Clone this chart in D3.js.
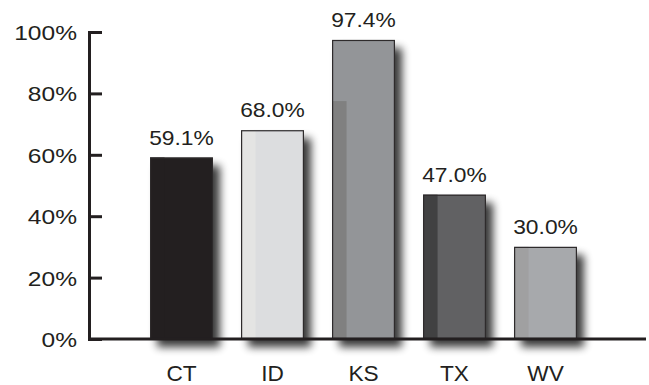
<!DOCTYPE html>
<html>
<head>
<meta charset="utf-8">
<script src="https://cdn.jsdelivr.net/npm/d3@7"></script>
<style>
  html, body { margin: 0; padding: 0; background: #fff; }
  #chart { width: 649px; height: 385px; }
  text { font-family: "Liberation Sans", Arial, Helvetica, sans-serif; fill: #231f20; }
</style>
</head>
<body>
<div id="chart"></div>
<script>
// chart data
const states = ["CT", "ID", "KS", "TX", "WV"];
const shares = [59.1, 68.0, 97.4, 47.0, 30.0];
// height of the lighter/darker left stripe inside each bar
const stripeShares = [59.1, 68.0, 77.5, 47.0, 30.0];
const yTicks = [0, 20, 40, 60, 80, 100];

const fills = ["#231f20", "#dcdddf", "#939598", "#616163", "#a7a9ac"];
const stripeFills = ["#231f20", "#e4e4e3", "#808080", "#414142", "#a0a0a1"];

const W = 649, H = 385;

const svg = d3.select("#chart").append("svg")
  .attr("width", W)
  .attr("height", H);

// soft drop shadow behind the bars
const defs = svg.append("defs");
const f = defs.append("filter")
  .attr("id", "shadow")
  .attr("x", "-30%").attr("y", "-30%")
  .attr("width", "160%").attr("height", "160%");
f.append("feGaussianBlur").attr("in", "SourceAlpha").attr("stdDeviation", 4.5).attr("result", "blur");
f.append("feOffset").attr("in", "blur").attr("dx", 7).attr("dy", 8).attr("result", "off");
f.append("feComponentTransfer").attr("in", "off")
  .append("feFuncA").attr("type", "linear").attr("slope", 0.78);

const y = d3.scaleLinear().domain([0, 100]).range([339, 32]);
const x = d3.scaleBand()
  .domain(states)
  .range([104.6, 622.4])
  .paddingInner(0.31)
  .paddingOuter(0.5);

const data = states.map((s, i) => ({
  state: s, v: shares[i], stripe: stripeShares[i], fill: fills[i], sfill: stripeFills[i]
}));

// shadows
svg.append("g").selectAll("rect")
  .data(data)
  .enter().append("rect")
  .attr("x", d => x(d.state))
  .attr("y", d => y(d.v))
  .attr("width", x.bandwidth())
  .attr("height", d => y(0) - y(d.v))
  .attr("fill", "#000")
  .attr("filter", "url(#shadow)");

// bars
const bars = svg.append("g");
bars.selectAll("rect.bar")
  .data(data)
  .enter().append("rect")
  .attr("class", "bar")
  .attr("x", d => x(d.state))
  .attr("y", d => y(d.v))
  .attr("width", x.bandwidth())
  .attr("height", d => y(0) - y(d.v))
  .attr("fill", d => d.fill);

bars.selectAll("rect.stripe")
  .data(data)
  .enter().append("rect")
  .attr("class", "stripe")
  .attr("x", d => x(d.state))
  .attr("y", d => y(d.stripe))
  .attr("width", x.bandwidth() * 0.23)
  .attr("height", d => y(0) - y(d.stripe))
  .attr("fill", d => d.sfill);

bars.selectAll("rect.edge")
  .data(data)
  .enter().append("rect")
  .attr("class", "edge")
  .attr("x", d => x(d.state) + 0.5)
  .attr("y", d => y(d.v) + 0.5)
  .attr("width", x.bandwidth() - 1)
  .attr("height", d => y(0) - y(d.v) - 1)
  .attr("fill", "none")
  .attr("stroke", "#2e2b2c")
  .attr("stroke-width", 1.2);

// value labels
svg.append("g").selectAll("text")
  .data(data)
  .enter().append("text")
  .attr("transform", d => `translate(${x(d.state) + x.bandwidth() / 2},${y(d.v) - 13}) scale(1.14,1)`)
  .attr("text-anchor", "middle")
  .attr("font-size", "20px")
  .text(d => d.v.toFixed(1) + "%");

// baseline
svg.append("line")
  .attr("x1", 88).attr("x2", 646)
  .attr("y1", y(0)).attr("y2", y(0))
  .attr("stroke", "#231f20")
  .attr("stroke-width", 3);

// y axis, ticks pointing right
const yAxis = svg.append("g")
  .attr("transform", "translate(89,0)")
  .call(d3.axisLeft(y)
    .tickValues(yTicks)
    .tickSize(-13)
    .tickFormat(d => d + "%"));
yAxis.select(".domain").attr("stroke", "#231f20").attr("stroke-width", 3);
yAxis.selectAll(".tick line").attr("stroke", "#231f20").attr("stroke-width", 3);
yAxis.selectAll(".tick text")
  .attr("x", 0)
  .attr("dy", "0.36em")
  .attr("transform", "translate(-12,0) scale(1.17,1)")
  .attr("font-size", "21px")
  .attr("font-family", null)
  .attr("fill", "#231f20");
yAxis.attr("font-family", null).attr("font-size", null);

// category labels
svg.append("g").selectAll("text")
  .data(states)
  .enter().append("text")
  .attr("transform", d => `translate(${x(d) + x.bandwidth() / 2},381) scale(1.03,1)`)
  .attr("text-anchor", "middle")
  .attr("font-size", "22px")
  .text(d => d);
</script>
</body>
</html>
